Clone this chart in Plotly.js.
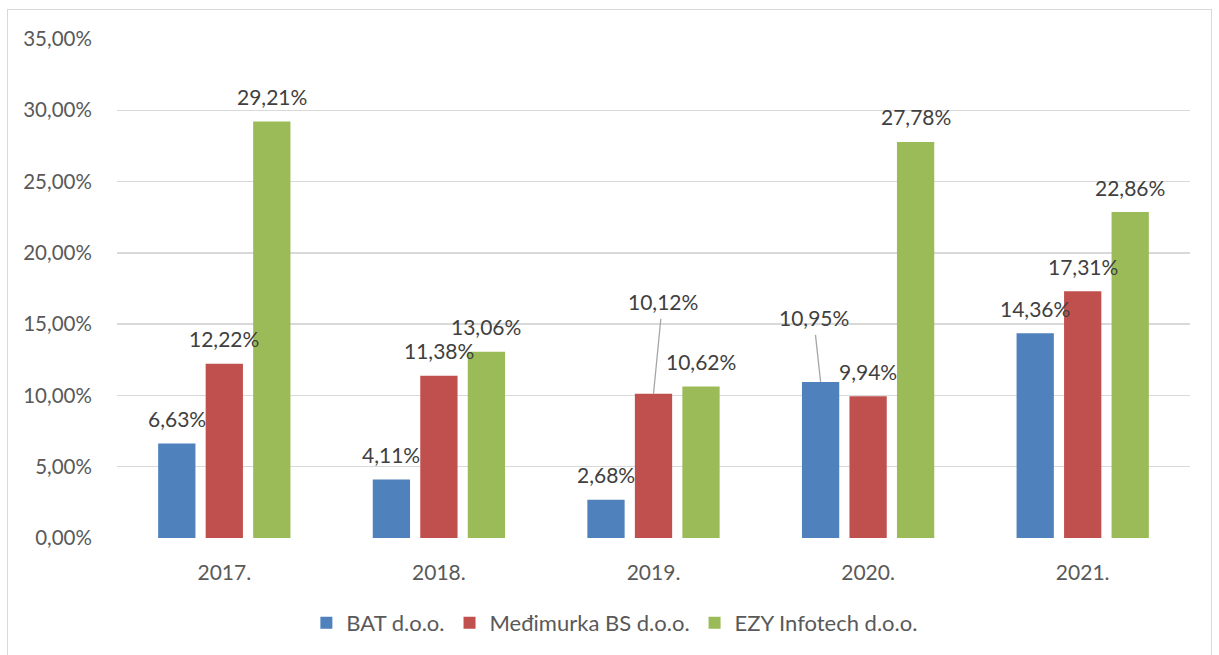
<!DOCTYPE html>
<html>
<head>
<meta charset="utf-8">
<script src="https://cdn.plot.ly/plotly-3.0.1.min.js"></script>
<style>
  html, body { margin: 0; padding: 0; background: #ffffff; }
  #chart { position: absolute; left: 0; top: 0; width: 1219px; height: 655px; }
  #frame { position: absolute; left: 7px; top: 9px; width: 1205px; height: 660px;
           border: 1px solid #d9d9d9; box-sizing: border-box; pointer-events: none; }
</style>
</head>
<body>
<div id="chart"></div>
<div id="frame"></div>
<script>
// ---- data ----
const categories = ['2017.', '2018.', '2019.', '2020.', '2021.'];
const seriesNames = ['BAT d.o.o.', 'Međimurka BS d.o.o.', 'EZY Infotech d.o.o.'];
const batValues = [6.63, 4.11, 2.68, 10.95, 14.36];
const medimurkaValues = [12.22, 11.38, 10.12, 9.94, 17.31];
const ezyValues = [29.21, 13.06, 10.62, 27.78, 22.86];
const yTicks = [0, 5, 10, 15, 20, 25, 30, 35];

// ---- styles ----
const colors = ['#4F81BD', '#C0504D', '#9BBB59'];
const seriesValues = [batValues, medimurkaValues, ezyValues];
const fontFamily = 'Lato, "Open Sans", "Liberation Sans", sans-serif';
const textColor = '#404040';
const axisTextColor = '#595959';
const slotPx = 47.5; // horizontal distance between bars inside a group

// labels that Excel moved away from the bar, with a leader line (series index, category index, offset)
const leaderLabels = {
  '0-3': { ax: -7, ay: -64 },
  '1-2': { ax: 9, ay: -92 }
};

function fmt(v) { return v.toFixed(2).replace('.', ',') + '%'; }

const traces = seriesValues.map((vals, i) => ({
  type: 'bar',
  name: seriesNames[i],
  x: categories,
  y: vals,
  marker: { color: colors[i] },
  hoverinfo: 'skip'
}));

const annotations = [];
seriesValues.forEach((vals, s) => {
  vals.forEach((v, c) => {
    const key = s + '-' + c;
    const base = {
      x: c, y: v, xref: 'x', yref: 'y',   // c = serial number of the category
      text: fmt(v),
      font: { family: fontFamily, size: 21, color: textColor },
      xshift: (s - 1) * slotPx
    };
    if (leaderLabels[key]) {
      Object.assign(base, {
        showarrow: true, arrowhead: 0, arrowwidth: 1.3, arrowcolor: '#a6a6a6',
        ax: leaderLabels[key].ax, ay: leaderLabels[key].ay,
        startstandoff: 3, standoff: 0
      });
    } else {
      Object.assign(base, { showarrow: false, yanchor: 'middle', yshift: 25 });
    }
    annotations.push(base);
  });
});

const layout = {
  width: 1219, height: 655,
  margin: { l: 117, r: 29, t: 39, b: 116 },
  paper_bgcolor: '#ffffff', plot_bgcolor: '#ffffff',
  barmode: 'group',
  bargap: 0.336,
  bargroupgap: 0.215,
  showlegend: true,
  legend: {
    orientation: 'h', x: 0.464, xanchor: 'center', y: -0.168, yanchor: 'middle',
    font: { family: fontFamily, size: 22, color: axisTextColor },
    itemclick: false, itemdoubleclick: false
  },
  xaxis: {
    type: 'category',
    categoryorder: 'array', categoryarray: categories,
    range: [-0.5, categories.length - 0.5],
    showgrid: false, zeroline: false, showline: false,
    ticks: 'outside', ticklen: 16, tickcolor: 'rgba(0,0,0,0)',
    tickfont: { family: fontFamily, size: 21, color: axisTextColor }
  },
  yaxis: {
    range: [0, 35],
    tickmode: 'array',
    tickvals: yTicks,
    ticktext: yTicks.map(fmt),
    showgrid: true, gridcolor: '#d9d9d9', gridwidth: 1.5,
    zeroline: false, showline: false,
    ticks: 'outside', ticklen: 20, tickcolor: 'rgba(0,0,0,0)',
    tickfont: { family: fontFamily, size: 20.5, color: axisTextColor }
  },
  annotations: annotations
};

Plotly.newPlot('chart', traces, layout, { displayModeBar: false, staticPlot: true });
</script>
</body>
</html>
